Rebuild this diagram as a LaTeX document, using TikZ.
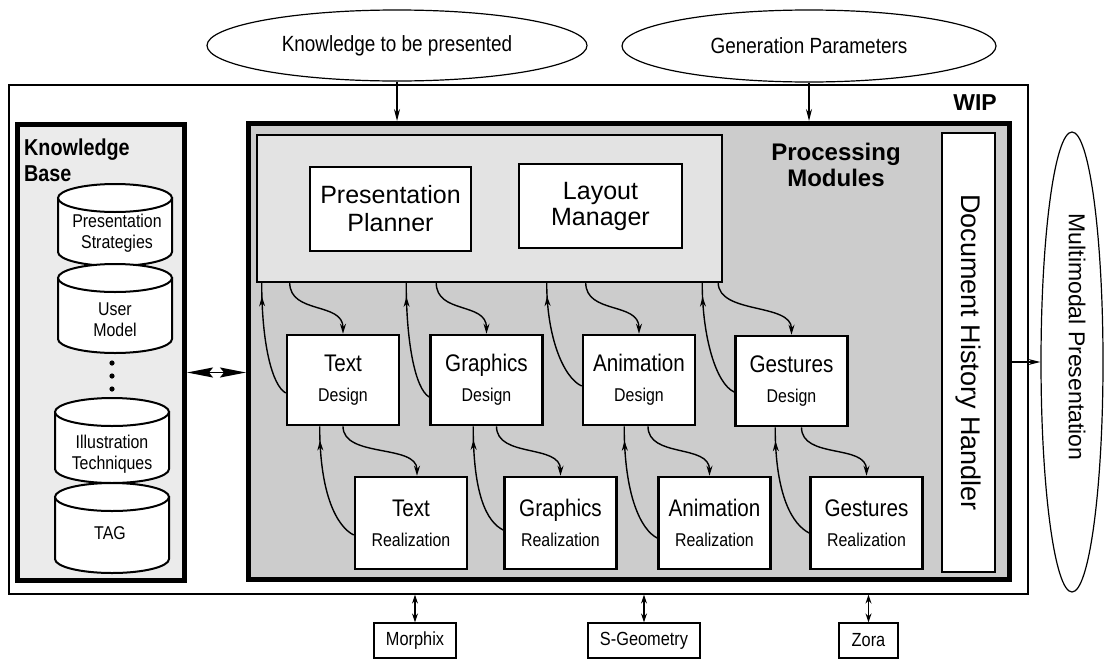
\documentclass[tikz,border=0pt]{standalone}
\usepackage{fontspec}
\setmainfont{Liberation Sans}
\newfontfamily\narrowsf{Liberation Sans}[FakeStretch=0.86]
\usetikzlibrary{arrows.meta,calc,decorations.markings,shapes.geometric}
\newcommand\fs[2]{\fontsize{#1}{#2}\selectfont}
\newcommand\kbcyl[5]{%
  \filldraw[cylstyle] ({#1-#4},#2) -- ({#1-#4},#3)
    .. controls ({#1-#4},{#3+0.55*#5}) and ({#1-0.55*#4},{#3+#5}) .. (#1,{#3+#5})
    .. controls ({#1+0.55*#4},{#3+#5}) and ({#1+#4},{#3+0.55*#5}) .. ({#1+#4},#3)
    -- ({#1+#4},#2) -- cycle;
  \filldraw[cylstyle] (#1,#2) ellipse [x radius=#4, y radius=#5];}
\newcommand\ttl[1]{{\fs{24}{30}#1}}
\begin{document}
\begin{tikzpicture}[x=1pt,y=-1pt,
  box/.style={draw, fill=white, inner sep=0pt, align=center},
  modbox/.style={box, line width=2.6pt, minimum width=112pt, minimum height=90pt, font=\narrowsf\fs{18.5}{30}},
  realbox/.style={modbox, minimum height=92pt},
  cylstyle/.style={draw=black, fill=white, line width=2pt},
  cyltext/.style={inner sep=0pt, align=center, font=\narrowsf\fs{18.5}{21}},
  oval/.style={draw, ellipse, line width=1.2pt, inner sep=0pt},
  darr/.style={line width=1.4pt, -{Stealth[length=10pt,width=6pt]}},
  uarr/.style={line width=1.4pt, postaction={decorate},
    decoration={markings, mark=at position 0.88 with {\arrow{Stealth[length=10pt,width=6pt]}}}},
  inarr/.style={line width=1.2pt, -{Stealth[length=12pt,width=6pt]}},
  bidir/.style={line width=1.2pt, {Stealth[length=9pt,width=6pt]}-{Stealth[length=9pt,width=6pt]}},
  kbarr/.style={line width=1.5pt, {Stealth[length=26pt,width=10pt,inset=4pt]}-{Stealth[length=26pt,width=10pt,inset=4pt]}},
  smallbox/.style={box, line width=1.2pt, minimum height=35pt, font=\narrowsf\fs{19}{20}}
]
\useasboundingbox (0,0) rectangle (1105,659);

% input ellipses
\node[oval, minimum width=380pt, minimum height=71pt, font=\narrowsf\fs{22}{24}] (ke) at (397,45.5) {Knowledge to be presented};
\node[oval, minimum width=374pt, minimum height=72pt, font=\narrowsf\fs{22}{24}] (gp) at (809,46) {Generation Parameters};

% WIP frame
\node[draw, line width=1.2pt, minimum width=1019pt, minimum height=509pt, inner sep=0pt] (wip) at (518.5,339.5) {};
\node[font=\bfseries\fs{23}{26}, anchor=base, inner sep=0pt] (wipl) at (975,110) {WIP};

% Knowledge base
\node[draw, line width=5pt, fill=black!8, minimum width=167pt, minimum height=456pt, inner sep=0pt] (kb) at (101,352.5) {};
\node[font=\narrowsf\bfseries\fs{23}{26}, align=left, anchor=north west, inner sep=0pt] (kbl) at (24,139) {Knowledge\\Base};
\kbcyl{115}{198}{252}{57}{14}
\node[cyltext] (ps) at (117,233) {Presentation\\Strategies};
\kbcyl{115}{278}{339}{57}{14}
\node[cyltext] (um) at (115,320) {User\\Model};
\fill (112,363) circle [radius=2.6];
\fill (112,376) circle [radius=2.6];
\fill (112,389) circle [radius=2.6];
\kbcyl{112}{412}{469}{57}{14}
\node[cyltext] (it) at (112,454) {Illustration\\Techniques};
\kbcyl{112}{497}{559}{57}{14}
\node[cyltext] (tag) at (110,533) {TAG};

% Processing modules
\node[draw, line width=5pt, fill=black!20, minimum width=761pt, minimum height=456pt, inner sep=0pt] (pm) at (629,351.5) {};
\node[font=\bfseries\fs{24}{26}, align=center, inner sep=0pt] (pml) at (836,165) {Processing\\Modules};
\node[draw, line width=2pt, fill=black!11, minimum width=465pt, minimum height=147pt, inner sep=0pt] (pl) at (489.5,208) {};
\node[box, line width=2pt, minimum width=161pt, minimum height=84pt, font=\fs{25}{28}] (pp) at (390.5,209) {Presentation\\Planner};
\node[box, line width=2pt, minimum width=163pt, minimum height=84pt, font=\fs{25}{26}] (lm) at (600.5,206) {Layout\\Manager};
\node[draw, fill=white, line width=2.4pt, minimum width=53pt, minimum height=439pt, inner sep=0pt] (dhh) at (968.5,352.5) {};
\node[rotate=-90, font=\fs{27}{30}, inner sep=0pt] (dhht) at (dhh.center) {Document History Handler};

% design boxes
\node[modbox] (td) at (343,380) {\ttl{Text}\\Design};
\node[modbox] (gd) at (486.5,380) {\ttl{Graphics}\\Design};
\node[modbox] (ad) at (639,380) {\ttl{Animation}\\Design};
\node[modbox] (ged) at (791.5,381) {\ttl{Gestures}\\Design};
% realization boxes
\node[realbox] (tr) at (411,523) {\ttl{Text}\\Realization};
\node[realbox] (gr) at (560.5,523) {\ttl{Graphics}\\Realization};
\node[realbox] (ar) at (714.5,523) {\ttl{Animation}\\Realization};
\node[realbox] (ger) at (866.5,523) {\ttl{Gestures}\\Realization};

% output ellipse
\node[oval, minimum width=62pt, minimum height=460pt] (mp) at (1072,362) {};
\node[rotate=-90, font=\fs{23}{26}, inner sep=0pt] (mpt) at (1077,337) {Multimodal Presentation};

% external tools
\node[smallbox, minimum width=82pt] (mo) at (415,640.5) {Morphix};
\node[smallbox, minimum width=112pt] (sg) at (644,640.5) {S-Geometry};
\node[smallbox, minimum width=59pt] (zo) at (868.5,640.5) {Zora};

% connectors: inputs and outputs
\draw[inarr] (ke.south) -- (ke.south |- pm.north);
\draw[inarr] (gp.south) -- (gp.south |- pm.north);
\draw[kbarr] ([yshift=-20pt]kb.east) -- ([yshift=-20pt]kb.east -| pm.west);
\draw[inarr] (mp.west -| pm.east) -- (mp.west);
\draw[bidir] (mo.north |- wip.south) -- (mo.north);
\draw[bidir] (sg.north |- wip.south) -- (sg.north);
\draw[bidir] (zo.north |- wip.south) -- (zo.north);

% planner -> design
\draw[darr] ($(td.west |- pl.south)+(4,0)$) .. controls +(0,32) and +(0,-32) .. (td.north);
\draw[darr] ($(gd.west |- pl.south)+(7,0)$) .. controls +(0,32) and +(0,-32) .. (gd.north);
\draw[darr] ($(ad.west |- pl.south)+(4,0)$) .. controls +(0,32) and +(0,-32) .. (ad.north);
\draw[darr] ($(ged.west |- pl.south)+(-16,0)$) .. controls +(0,32) and +(0,-32) .. (ged.north);
% design -> planner
\draw[uarr] ($(td.west)+(0,13)$) .. controls +(-14,-8) and +(0,60) .. ($(td.west |- pl.south)+(-24,0)$);
\draw[uarr] ($(gd.west)+(0,17)$) .. controls +(-14,-8) and +(0,60) .. ($(gd.west |- pl.south)+(-23,0)$);
\draw[uarr] ($(ad.west)+(0,6)$) .. controls +(-18,-8) and +(0,55) .. ($(ad.west |- pl.south)+(-35,0)$);
\draw[uarr] ($(ged.west)+(0,11)$) .. controls +(-18,-8) and +(0,55) .. ($(ged.west |- pl.south)+(-32,0)$);
% design -> realization
\draw[darr] (td.south) .. controls +(0,32) and +(0,-32) .. ($(tr.north)+(6,0)$);
\draw[darr] ($(gd.south)+(10,0)$) .. controls +(0,32) and +(0,-32) .. (gr.north);
\draw[darr] ($(ad.south)+(9,0)$) .. controls +(0,32) and +(0,-32) .. ($(ar.north)+(-5,0)$);
\draw[darr] ($(ged.south)+(10,0)$) .. controls +(0,32) and +(0,-32) .. (ger.north);
% realization -> design
\draw[uarr] ($(tr.west)+(0,12)$) .. controls +(-16,-8) and +(0,70) .. ($(tr.west |- td.south)+(-34,0)$);
\draw[uarr] ($(gr.west)+(0,7)$) .. controls +(-16,-8) and +(0,70) .. ($(gr.west |- gd.south)+(-30,0)$);
\draw[uarr] ($(ar.west)+(0,15)$) .. controls +(-16,-8) and +(0,70) .. ($(ar.west |- ad.south)+(-33,0)$);
\draw[uarr] ($(ger.west)+(0,10)$) .. controls +(-16,-8) and +(0,70) .. ($(ger.west |- ged.south)+(-34,0)$);
\end{tikzpicture}
\end{document}
